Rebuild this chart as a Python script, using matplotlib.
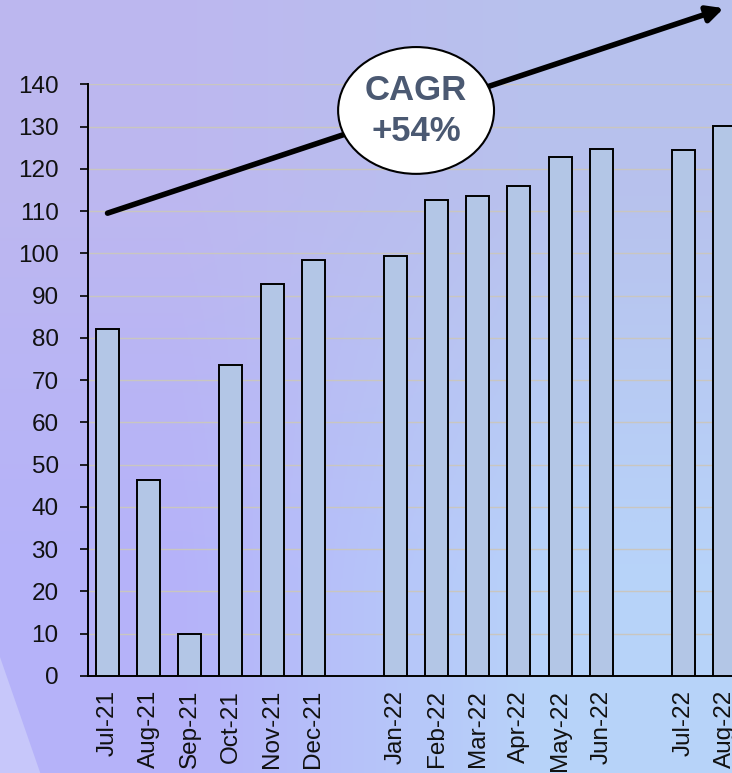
import numpy as np
import matplotlib
matplotlib.use("Agg")
import matplotlib.pyplot as plt
from matplotlib.patches import Ellipse, Polygon

plt.rcParams["font.family"] = ["Liberation Sans", "DejaVu Sans"]

# monthly values, split into the three periods shown
months = ["Jul-21", "Aug-21", "Sep-21", "Oct-21", "Nov-21", "Dec-21",
          "Jan-22", "Feb-22", "Mar-22", "Apr-22", "May-22", "Jun-22",
          "Jul-22", "Aug-22"]
values = [82, 46.3, 9.9, 73.5, 92.8, 98.5,
          99.4, 112.7, 113.6, 116.0, 122.7, 124.7,
          124.4, 130.2]
period_breaks = ["Jan-22", "Jul-22"]   # an empty slot goes before these

trend_start = 109.5
trend_end = 158
cagr_text = "CAGR\n+54%"


def main():
    fig = plt.figure(figsize=(7.32, 7.73), dpi=100)

    # soft purple-to-blue background
    bg = fig.add_axes([0, 0, 1, 1], zorder=-10)
    corners = np.array([[[0.74, 0.72, 0.94], [0.72, 0.76, 0.93]],
                        [[0.71, 0.70, 0.98], [0.72, 0.83, 0.98]]])
    bg.imshow(corners, extent=[0, 1, 0, 1], interpolation="bilinear",
              aspect="auto", origin="upper")
    bg.add_patch(Polygon([[0, 0], [0.055, 0], [0, 0.15]],
                         closed=True, color=(0.78, 0.78, 0.98), lw=0))
    bg.set_xlim(0, 1)
    bg.set_ylim(0, 1)
    bg.axis("off")

    ax = fig.add_axes([0.120, 0.1255, 0.880, 0.7655])
    ax.patch.set_alpha(0)

    x = []
    slot = 0
    for m in months:
        if m in period_breaks:
            slot += 1
        x.append(slot)
        slot += 1

    ax.bar(x, values, width=0.56, color="#b3c6e6", edgecolor="black",
           linewidth=1.4, zorder=3)

    ax.set_ylim(0, 140)
    ax.set_yticks(range(0, 141, 10))
    ax.set_xlim(-0.479, 15.18)
    ax.set_xticks(x)
    ax.set_xticklabels(months, rotation=90, va="top")
    ax.tick_params(axis="x", length=0, pad=10, labelsize=17.5, colors="#111111")
    ax.tick_params(axis="y", length=6, width=1.3, pad=15, labelsize=17.5,
                   colors="#111111")
    ax.yaxis.grid(True, color="#c9c6c0", linewidth=1.0, zorder=0)
    ax.set_axisbelow(True)
    for side in ("top", "right"):
        ax.spines[side].set_visible(False)
    for side in ("left", "bottom"):
        ax.spines[side].set_linewidth(1.4)
        ax.spines[side].set_color("black")

    # growth arrow with the CAGR bubble on top of it
    ax.annotate("", xy=(x[-1] - 0.02, trend_end), xytext=(x[0], trend_start),
                arrowprops=dict(arrowstyle="-|>", lw=4, color="black",
                                mutation_scale=24, shrinkA=0, shrinkB=0),
                annotation_clip=False, zorder=5)
    ax.add_patch(Ellipse((7.5, 133.8), 3.79, 30.0, facecolor="white",
                         edgecolor="black", linewidth=1.5, zorder=6,
                         clip_on=False))
    ax.text(7.5, 133.6, cagr_text, ha="center", va="center", fontsize=25,
            fontweight="bold", color="#4b5972", linespacing=1.3, zorder=7)

    fig.savefig("out.png", dpi=100)


if __name__ == "__main__":
    main()
